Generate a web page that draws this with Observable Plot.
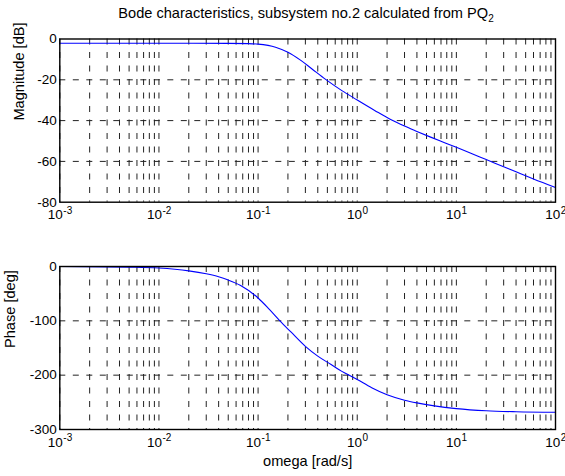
<!DOCTYPE html>
<html><head><meta charset="utf-8">
<script src="https://cdn.jsdelivr.net/npm/d3@7"></script>
<script src="https://cdn.jsdelivr.net/npm/@observablehq/plot@0.6"></script>
<style>
body{margin:0;background:#fff;}
#wrap{position:relative;width:565px;height:476px;font-family:"Liberation Sans",Arial,sans-serif;background:#fff;}
#title{position:absolute;left:306px;top:5px;transform:translateX(-50%);white-space:nowrap;font-size:14.6px;line-height:16px;color:#000;}
#title sub{font-size:10px;line-height:0;vertical-align:-4px;}
</style></head><body>
<div id="wrap"><div id="title">Bode characteristics, subsystem no.2 calculated from PQ<sub>2</sub></div></div>
<script>
// ---- data ----
const omegaMag = [0.001, 0.01, 0.05, 0.08, 0.1, 0.15, 0.2, 0.27, 0.35, 0.48, 0.7, 1, 1.5, 2.2, 3, 4, 5.5, 7.5, 10, 15, 20, 30, 40, 60, 100];
const magDb    = [-2.1, -2.1, -2.12, -2.25, -2.5, -4.0, -6.5, -10.5, -14.7, -19.8, -25.3, -29.9, -35.0, -39.6, -42.7, -45.3, -48.1, -50.7, -53.1, -56.6, -59.1, -62.6, -65.1, -68.6, -72.8];
const omegaPhase = [0.001, 0.003, 0.005, 0.01, 0.02, 0.03, 0.04, 0.05, 0.0667, 0.1, 0.13, 0.166, 0.213, 0.3, 0.4, 0.54, 0.7, 0.85, 1, 1.4, 2, 3, 4, 6, 10, 20, 40, 100];
const phaseDeg   = [0, -0.6, -1.2, -2.8, -8, -13.5, -19, -25, -35, -58, -79, -100, -120, -147, -165, -180, -193, -201, -208, -223, -236, -246, -251, -256.5, -261.5, -265.5, -267.3, -268.3];
const xTickValues = [0.001, 0.01, 0.1, 1, 10, 100];
const xTickExps   = ["-3", "-2", "-1", "0", "1", "2"];
const minorMultipliers = [2, 3, 4, 5, 6, 7, 8, 9];
const magTicks   = [0, -20, -40, -60, -80];
const phaseTicks = [0, -100, -200, -300];
const titleText = "Bode characteristics, subsystem no.2 calculated from PQ";
const magLabel = "Magnitude [dB]";
const phaseLabel = "Phase [deg]";
const xLabel = "omega [rad/s]";

// ---- derived tables ----
const gridX = [];
for (const d of xTickValues) { gridX.push(d); if (d < 100) for (const m of minorMultipliers) gridX.push(d * m); }
const magData = omegaMag.map((w, i) => ({w, v: magDb[i]}));
const phaseData = omegaPhase.map((w, i) => ({w, v: phaseDeg[i]}));
const ticks = xTickValues.map((v, i) => ({v, e: xTickExps[i]}));
const negTicks = ticks.filter(t => t.e.startsWith("-"));
const posTicks = ticks.filter(t => !t.e.startsWith("-"));

const FONT = "Liberation Sans, Arial, Helvetica, sans-serif";
const GRID = "#222";
const DASH = "6,7.5";

function xTickMarks() {
  return [
    Plot.text(negTicks, {x: "v", frameAnchor: "bottom", text: () => "10", textAnchor: "end", dx: 3, dy: 17, fontSize: 13.5}),
    Plot.text(negTicks, {x: "v", frameAnchor: "bottom", text: "e", textAnchor: "start", dx: 3.5, dy: 11.5, fontSize: 10}),
    Plot.text(posTicks, {x: "v", frameAnchor: "bottom", text: () => "10", textAnchor: "end", dx: 4.7, dy: 17, fontSize: 13.5}),
    Plot.text(posTicks, {x: "v", frameAnchor: "bottom", text: "e", textAnchor: "start", dx: 5.2, dy: 11.5, fontSize: 10})
  ];
}

function panel({height, marginTop, marginBottom, yDomain, yTicks, data, label, labelDx, extra}) {
  return Plot.plot({
    width: 565, height, marginTop, marginBottom, marginLeft: 59.3, marginRight: 10,
    x: {type: "log", domain: [1e-3, 100], axis: null},
    y: {domain: yDomain},
    style: {fontFamily: FONT, fontSize: "13.5px", color: "#000", background: "transparent"},
    marks: [
      Plot.ruleX(gridX, {stroke: GRID, strokeWidth: 1, strokeDasharray: DASH}),
      Plot.ruleY(yTicks.slice(1, -1), {stroke: GRID, strokeWidth: 1, strokeDasharray: DASH}),
      Plot.line(data, {x: "w", y: "v", stroke: "#0000ff", strokeWidth: 1.1, curve: "monotone-x"}),
      Plot.frame({stroke: "#000", strokeWidth: 1.4}),
      Plot.axisY({ticks: yTicks, tickFormat: d => String(d), tickSize: 0, tickPadding: 3, label: null, fontSize: 13.5}),
      ...xTickMarks(),
      Plot.text([label], {frameAnchor: "left", text: d => d, rotate: -90, dx: labelDx, fontSize: 14.6}),
      ...(extra || [])
    ]
  });
}

const wrap = document.getElementById("wrap");
document.getElementById("title").firstChild.nodeValue = titleText;

const magChart = panel({height: 240, marginTop: 38.5, marginBottom: 38.3, yDomain: [-80, 0], yTicks: magTicks, data: magData, label: magLabel, labelDx: -40});
magChart.style.position = "absolute"; magChart.style.left = "0px"; magChart.style.top = "0px";
wrap.appendChild(magChart);

const phaseChart = panel({height: 236, marginTop: 26, marginBottom: 47, yDomain: [-300, 0], yTicks: phaseTicks, data: phaseData, label: phaseLabel, labelDx: -49,
  extra: [Plot.text([xLabel], {frameAnchor: "bottom", text: d => d, dy: 36, fontSize: 14.6})]});
phaseChart.style.position = "absolute"; phaseChart.style.left = "0px"; phaseChart.style.top = "240px";
wrap.appendChild(phaseChart);
</script>
</body></html>
